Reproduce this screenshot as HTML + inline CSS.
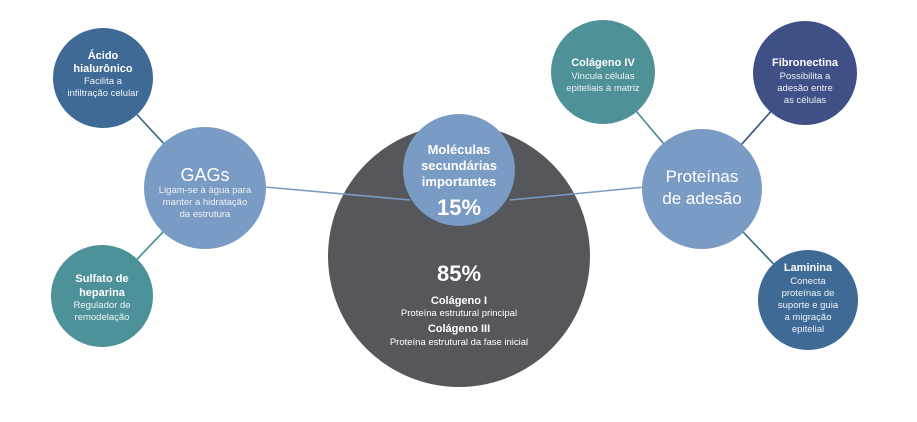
<!DOCTYPE html>
<html><head><meta charset="utf-8"><style>
html,body{margin:0;padding:0;background:#fff;}
svg{display:block;font-family:"Liberation Sans",sans-serif;}
.b{font-weight:bold;fill:#fff;}
.n{fill:#eef2f7;}
</style></head><body>
<svg width="917" height="422" viewBox="0 0 917 422">
<g stroke-width="1.6" fill="none">
<line x1="103" y1="78" x2="205" y2="188" stroke="#2f6a7e"/>
<line x1="102" y1="296" x2="205" y2="188" stroke="#3f8a8f"/>
<line x1="603" y1="72" x2="702" y2="189" stroke="#3f8a8f"/>
<line x1="805" y1="73" x2="702" y2="189" stroke="#2e4f7e"/>
<line x1="808" y1="300" x2="702" y2="189" stroke="#2f6a7e"/>
</g>
<circle cx="459" cy="256" r="131" fill="#55575b"/>
<line x1="265" y1="187" x2="410" y2="200" stroke="#7a9bc4" stroke-width="1.6"/>
<line x1="645" y1="187" x2="510" y2="200" stroke="#7a9bc4" stroke-width="1.6"/>
<circle cx="459" cy="170" r="56" fill="#7a9bc4"/>
<circle cx="205" cy="188" r="61" fill="#7a9bc4"/>
<circle cx="103" cy="78" r="50" fill="#3f6a95"/>
<circle cx="102" cy="296" r="51" fill="#4e9299"/>
<circle cx="702" cy="189" r="60" fill="#7a9bc4"/>
<circle cx="603" cy="72" r="52" fill="#4e9298"/>
<circle cx="805" cy="73" r="52" fill="#3e5086"/>
<circle cx="808" cy="300" r="50" fill="#3f6a96"/>
<g text-anchor="middle">
<text x="459" y="154" class="b" font-size="13">Moléculas</text>
<text x="459" y="170" class="b" font-size="13">secundárias</text>
<text x="459" y="186" class="b" font-size="13">importantes</text>
<text x="459" y="215" class="b" font-size="22">15%</text>
<text x="459" y="281" class="b" font-size="22">85%</text>
<text x="459" y="304" class="b" font-size="11">Colágeno I</text>
<text x="459" y="316" fill="#fff" font-size="9.5">Proteína estrutural principal</text>
<text x="459" y="332" class="b" font-size="11">Colágeno III</text>
<text x="459" y="345" fill="#fff" font-size="9.5">Proteína estrutural da fase inicial</text>

<text x="205" y="181" fill="#fff" font-size="18">GAGs</text>
<text x="205" y="193" class="n" font-size="9.5">Ligam-se à água para</text>
<text x="205" y="205" class="n" font-size="9.5">manter a hidratação</text>
<text x="205" y="217" class="n" font-size="9.5">da estrutura</text>

<text x="103" y="59" class="b" font-size="11">Ácido</text>
<text x="103" y="72" class="b" font-size="11">hialurônico</text>
<text x="103" y="84" class="n" font-size="9.5">Facilita a</text>
<text x="103" y="96" class="n" font-size="9.5">infiltração celular</text>

<text x="102" y="282" class="b" font-size="11">Sulfato de</text>
<text x="102" y="296" class="b" font-size="11">heparina</text>
<text x="102" y="308" class="n" font-size="9.5">Regulador de</text>
<text x="102" y="320" class="n" font-size="9.5">remodelação</text>

<text x="702" y="182" fill="#fff" font-size="17">Proteínas</text>
<text x="702" y="204" fill="#fff" font-size="17">de adesão</text>

<text x="603" y="66" class="b" font-size="11">Colágeno IV</text>
<text x="603" y="79" class="n" font-size="9.5">Vincula células</text>
<text x="603" y="91" class="n" font-size="9.5">epiteliais à matriz</text>

<text x="805" y="66" class="b" font-size="11">Fibronectina</text>
<text x="805" y="79" class="n" font-size="9.5">Possibilita a</text>
<text x="805" y="91" class="n" font-size="9.5">adesão entre</text>
<text x="805" y="103" class="n" font-size="9.5">as células</text>

<text x="808" y="271" class="b" font-size="11">Laminina</text>
<text x="808" y="284" class="n" font-size="9.5">Conecta</text>
<text x="808" y="296" class="n" font-size="9.5">proteínas de</text>
<text x="808" y="308" class="n" font-size="9.5">suporte e guia</text>
<text x="808" y="320" class="n" font-size="9.5">a migração</text>
<text x="808" y="332" class="n" font-size="9.5">epitelial</text>
</g>
</svg>
</body></html>
